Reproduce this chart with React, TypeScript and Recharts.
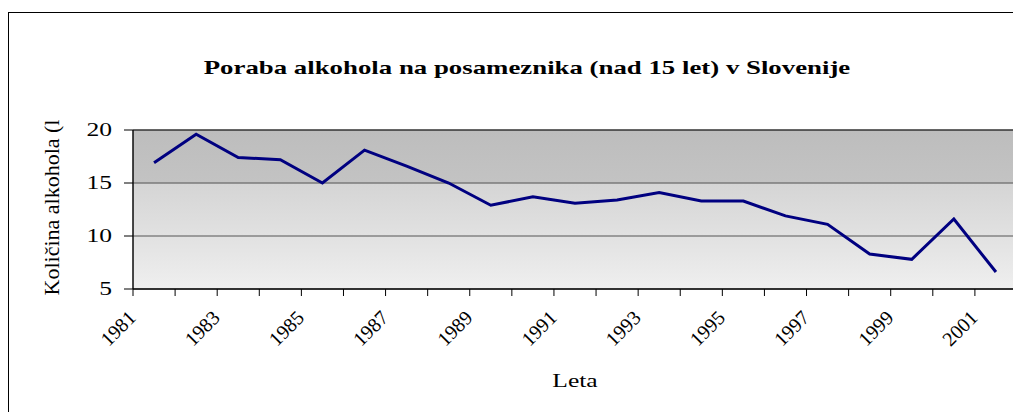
import React from 'react';
import { LineChart, Line, XAxis, YAxis, CartesianGrid, ReferenceArea } from 'recharts';

const years = [1981, 1982, 1983, 1984, 1985, 1986, 1987, 1988, 1989, 1990, 1991, 1992, 1993, 1994, 1995, 1996, 1997, 1998, 1999, 2000, 2001];
const values = [16.9, 19.6, 17.4, 17.2, 15.0, 18.1, 16.6, 15.0, 12.9, 13.7, 13.1, 13.4, 14.1, 13.3, 13.3, 11.9, 11.1, 8.3, 7.8, 11.6, 6.6];
const yTicks = [5, 10, 15, 20];
const title = 'Poraba alkohola na posameznika (nad 15 let) v Slovenije';
const xTitle = 'Leta';
const yTitle = 'Količina alkohola (l';

const data = years.map((y, i) => ({ pos: i + 0.5, year: y, value: values[i] }));
const xTicks = years.map((_, i) => i).concat([years.length]);

const SERIF = "'Liberation Serif', 'Times New Roman', Times, serif";

const XTick = (props: any) => {
  const { x, y, payload } = props;
  const i = payload.value;
  if (i % 2 !== 0 || i >= years.length) return null;
  return (
    <text
      transform={`translate(${x + 4},${y + 21}) rotate(-45)`}
      textAnchor="end"
      fontFamily={SERIF}
      fontSize={20}
      fill="#000"
    >
      {years[i]}
    </text>
  );
};

const YTick = (props: any) => {
  const { x, y, payload } = props;
  return (
    <text
      transform={`translate(${x - 10},${y + 6}) scale(1.38,1)`}
      textAnchor="end"
      fontFamily={SERIF}
      fontSize={18.5}
      fill="#000"
    >
      {payload.value}
    </text>
  );
};

export default function App() {
  return (
    <div style={{ position: 'relative', width: 1013, height: 404, overflow: 'hidden', background: '#fff' }}>
      <div
        style={{
          position: 'absolute',
          left: 0,
          top: 4,
          width: 2000,
          height: 2000,
          border: '1px solid #000',
          boxSizing: 'border-box',
        }}
      />
      <div style={{ position: 'absolute', left: 0, top: 0 }}>
        <LineChart width={1013} height={404} data={data} margin={{ top: 122, right: 4, left: 65, bottom: 63 }}>
          <defs>
            <linearGradient id="bgGrad" x1="0" y1="0" x2="0" y2="1">
              <stop offset="0%" stopColor="#bdbdbd" />
              <stop offset="33%" stopColor="#c3c3c3" />
              <stop offset="34%" stopColor="#d5d5d5" />
              <stop offset="66%" stopColor="#e1e1e1" />
              <stop offset="100%" stopColor="#efefef" />
            </linearGradient>
          </defs>
          <CartesianGrid vertical={false} stroke="#555" fill="url(#bgGrad)" fillOpacity={1} />
          <XAxis
            dataKey="pos"
            type="number"
            domain={[0, years.length]}
            ticks={xTicks}
            interval={0}
            tick={<XTick />}
            tickSize={7}
            tickLine={{ stroke: '#000' }}
            axisLine={{ stroke: '#000' }}
            height={60}
            allowDataOverflow
          />
          <YAxis
            domain={[5, 20]}
            ticks={yTicks}
            interval={0}
            tick={<YTick />}
            tickSize={9}
            tickLine={{ stroke: '#000' }}
            axisLine={{ stroke: '#000' }}
            width={60}
            allowDataOverflow
          />
          <ReferenceArea x1={0} x2={years.length} y1={5} y2={20} fill="none" fillOpacity={0} stroke="#222" strokeWidth={1} />
          <Line type="linear" dataKey="value" stroke="#000080" strokeWidth={3} dot={false} isAnimationActive={false} />
        </LineChart>
      </div>
      <svg width={1013} height={404} style={{ position: 'absolute', left: 0, top: 0, pointerEvents: 'none' }}>
        <text
          transform="translate(519,66) scale(1.45,1)"
          textAnchor="middle"
          fontFamily={SERIF}
          fontWeight="bold"
          fontSize={18.5}
          fill="#000"
        >
          {title}
        </text>
        <text
          transform="translate(567,379) scale(1.38,1)"
          textAnchor="middle"
          fontFamily={SERIF}
          fontSize={18.5}
          fill="#000"
        >
          {xTitle}
        </text>
        <text
          transform="translate(50.5,199.5) rotate(-90)"
          textAnchor="middle"
          fontFamily={SERIF}
          fontSize={22}
          fill="#000"
        >
          {yTitle}
        </text>
      </svg>
    </div>
  );
}
